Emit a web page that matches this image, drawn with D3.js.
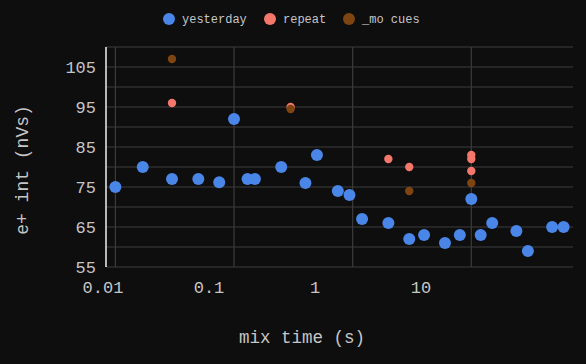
<!DOCTYPE html>
<html>
<head>
<meta charset="utf-8">
<script src="https://cdn.jsdelivr.net/npm/d3@7"></script>
<style>
  body { margin: 0; background: #0e0e0e; }
  svg { display: block; }
  text { font-family: "Courier New", "Liberation Mono", "DejaVu Sans Mono", monospace; fill: #c6c6c6; }
</style>
</head>
<body>
<script>
// series data: mix time (s) and e+ int (nVs)
var seriesNames = ["yesterday", "repeat", "_mo cues"];
var seriesColors = ["#4a86e8", "#f4776b", "#7f4511"];

var yesterdayX = [0.01, 0.017, 0.03, 0.05, 0.075, 0.1, 0.13, 0.15, 0.25, 0.4, 0.5, 0.75, 0.94, 1.2, 2, 3, 4, 6, 8, 10, 12, 15, 24, 30, 48, 60];
var yesterdayY = [75, 80, 77, 77, 76.2, 92, 77, 77, 80, 76, 83, 74, 73, 67, 66, 62, 63, 61, 63, 72, 63, 66, 64, 59, 65, 65];

var repeatX = [0.03, 0.3, 2, 3, 10, 10, 10];
var repeatY = [96, 95, 82, 80, 83, 82, 79];

var cuesX = [0.03, 0.3, 3, 10];
var cuesY = [107, 94.5, 74, 76];

var xTicks = [0.01, 0.1, 1, 10];
var xTickLabels = ["0.01", "0.1", "1", "10"];
var yTicks = [55, 65, 75, 85, 95, 105];
var yGrid = [55, 60, 65, 70, 75, 80, 85, 90, 95, 100, 105, 110];

var svgWidth = 586;
var svgHeight = 364;

var margin = { top: 47, right: 13, bottom: 97, left: 106 };
var chartWidth = svgWidth - margin.left - margin.right;
var chartHeight = svgHeight - margin.top - margin.bottom;

var svg = d3.select("body")
    .append("svg")
    .attr("width", svgWidth)
    .attr("height", svgHeight);

svg.append("rect")
    .attr("width", svgWidth)
    .attr("height", svgHeight)
    .attr("fill", "#0e0e0e");

var chartGroup = svg.append("g")
    .attr("transform", `translate(${margin.left},${margin.top})`);

var series = [
    { name: seriesNames[0], color: seriesColors[0], r: 6, xs: yesterdayX, ys: yesterdayY },
    { name: seriesNames[1], color: seriesColors[1], r: 4.2, xs: repeatX, ys: repeatY },
    { name: seriesNames[2], color: seriesColors[2], r: 4.2, xs: cuesX, ys: cuesY }
];

var allX = yesterdayX.concat(repeatX, cuesX);
var xLinearScale = d3.scaleLog()
    .domain([d3.min(allX) / 1.2, d3.max(allX) * 1.2])
    .range([0, chartWidth]);

var yLinearScale = d3.scaleLinear()
    .domain([55, 110])
    .range([chartHeight, 0]);

// tick labels sit a little left of their grid lines in the reference
var xLabelScale = d3.scaleLog()
    .domain([0.01, 10])
    .range([-3, 315]);

// grid
chartGroup.selectAll(".hgrid")
    .data(yGrid)
    .enter()
    .append("line")
    .attr("x1", 0)
    .attr("x2", chartWidth)
    .attr("y1", d => yLinearScale(d))
    .attr("y2", d => yLinearScale(d))
    .attr("stroke", "#3c3c3c")
    .attr("stroke-width", 1.2);

chartGroup.selectAll(".vgrid")
    .data(xTicks)
    .enter()
    .append("line")
    .attr("x1", d => xLinearScale(d))
    .attr("x2", d => xLinearScale(d))
    .attr("y1", 0)
    .attr("y2", chartHeight)
    .attr("stroke", "#3c3c3c")
    .attr("stroke-width", 1.2);

// y axis line
chartGroup.append("line")
    .attr("x1", 0).attr("x2", 0)
    .attr("y1", 0).attr("y2", chartHeight)
    .attr("stroke", "#f0f0f0")
    .attr("stroke-width", 1.5);

// tick labels
chartGroup.selectAll(".ylab")
    .data(yTicks)
    .enter()
    .append("text")
    .attr("x", -10)
    .attr("y", d => yLinearScale(d))
    .attr("dy", "0.35em")
    .attr("text-anchor", "end")
    .attr("font-size", 17)
    .text(d => d);

chartGroup.selectAll(".xlab")
    .data(xTicks)
    .enter()
    .append("text")
    .attr("x", d => xLabelScale(d))
    .attr("y", chartHeight + 26)
    .attr("text-anchor", "middle")
    .attr("font-size", 17)
    .text((d, i) => xTickLabels[i]);

// points
series.forEach(function (s) {
    chartGroup.selectAll(null)
        .data(s.xs.map((x, i) => [x, s.ys[i]]))
        .enter()
        .append("circle")
        .attr("cx", d => xLinearScale(d[0]))
        .attr("cy", d => yLinearScale(d[1]))
        .attr("r", s.r)
        .attr("fill", s.color);
});

// axis titles
svg.append("text")
    .attr("transform", `translate(302, 343)`)
    .attr("text-anchor", "middle")
    .attr("font-size", 17.5)
    .text("mix time (s)");

svg.append("text")
    .attr("transform", "translate(28, 170) rotate(-90)")
    .attr("text-anchor", "middle")
    .attr("font-size", 18)
    .text("e+ int (nVs)");

// legend
var legendX = [169, 270, 349];
var legend = svg.selectAll(".legend")
    .data(series)
    .enter()
    .append("g")
    .attr("transform", (d, i) => `translate(${legendX[i]}, 19)`);

legend.append("circle")
    .attr("r", 6)
    .attr("fill", d => d.color);

legend.append("text")
    .attr("x", 13)
    .attr("dy", "0.35em")
    .attr("font-size", 12)
    .text(d => d.name);
</script>
</body>
</html>
